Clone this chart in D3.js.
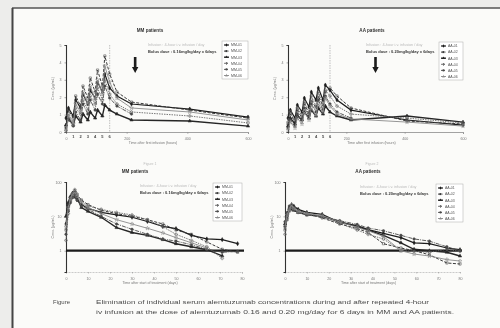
<!DOCTYPE html>
<html>
<head>
<meta charset="utf-8">
<script src="https://cdn.jsdelivr.net/npm/d3@7"></script>
<style>
  body { margin: 0; background: #ededeb; }
  svg { display: block; font-family: "Liberation Sans", Arial, sans-serif; }
</style>
</head>
<body>
<svg id="chart" width="500" height="328"></svg>
<script>
// ---- data ----
// top panels: hours after first infusion
const topHours = [0, 8, 24, 32, 48, 56, 72, 80, 96, 104, 120, 128, 144, 168, 216, 408, 600];
const doseDays = [1, 2, 3, 4, 5, 6];
const topTicks = [0, 200, 400, 600];

const mmPatients = ["MM-01", "MM-02", "MM-03", "MM-04", "MM-05", "MM-06"];
const aaPatients = ["AA-01", "AA-02", "AA-03", "AA-04", "AA-05", "AA-06"];

// MM, during/after infusion (linear scale)
const mmTop1 = [0.80, 1.38, 0.92, 1.84, 1.38, 2.18, 1.61, 2.41, 1.95, 2.87, 2.30, 3.33, 2.53, 2.07, 1.61, 1.32, 0.86];
const mmTop2 = [0.34, 1.26, 0.80, 2.07, 1.49, 2.64, 1.95, 3.10, 2.30, 3.56, 2.64, 4.37, 3.33, 2.30, 1.72, 1.26, 0.80];
const mmTop3 = [0.40, 0.80, 0.40, 0.92, 0.57, 1.03, 0.69, 1.15, 0.80, 1.26, 0.92, 1.55, 1.26, 1.03, 0.69, 0.63, 0.34];
const mmTop4 = [0.11, 1.03, 0.57, 1.38, 1.03, 1.84, 1.26, 2.07, 1.61, 2.53, 1.84, 2.99, 2.18, 1.61, 1.15, 0.92, 0.52];
const mmTop5 = [0.23, 0.69, 0.34, 1.15, 0.69, 1.61, 1.03, 1.84, 1.26, 2.18, 1.61, 2.64, 1.95, 1.49, 1.03, null, null];
const mmTop6 = [0.06, 0.92, 0.46, 1.61, 1.15, 2.30, 1.61, 2.64, 1.84, 2.99, 2.18, 3.79, 2.87, 1.95, 1.38, 1.15, 0.69];

// AA, during/after infusion
const aaTop1 = [0.80, 1.26, 0.80, 1.55, 1.15, 1.95, 1.44, 2.30, 1.84, 2.53, 1.84, 2.70, 2.41, 1.84, 1.26, 0.69, 0.40];
const aaTop2 = [0.46, 1.03, 0.57, 1.26, 0.80, 1.61, 1.03, 1.84, 1.38, 2.07, 1.49, 2.30, 2.53, 2.07, 1.38, 0.63, 0.46];
const aaTop3 = [0.34, 0.80, 0.46, 0.92, 0.69, 1.15, 0.80, 1.26, 0.92, 1.38, 1.03, 1.49, 1.15, 0.92, 0.69, 0.92, 0.57];
const aaTop4 = [0.57, 1.15, 0.69, 1.38, 0.92, 1.72, 1.15, 2.07, 1.49, 2.30, 1.61, 2.41, 2.07, 1.49, 1.03, 0.80, 0.52];
const aaTop5 = [0.23, 0.69, 0.34, 1.03, 0.69, 1.38, 0.92, 1.61, 1.15, 1.84, 1.26, 2.07, 1.61, 1.15, 0.80, null, null];
const aaTop6 = [0.11, 0.57, 0.23, 0.80, 0.46, 1.15, 0.69, 1.38, 0.92, 1.61, 1.15, 1.95, 1.49, 1.03, 0.75, 0.57, 0.34];

// bottom panels: days after start (log scale)
const mmDays = [0, 1, 2, 3, 4, 5, 7, 10, 16, 23, 30, 37, 44, 50, 57, 64, 71, 78];
const mmLog1 = [6, 20, 35, 45, 38, 30, 22, 17, 13, 11, 9.4, 7.1, 5.1, 4.4, 2.8, 2.2, 2.1, 1.6];
const mmLog2 = [4, 15, 30, 40, 50, 42, 30, 22, 15, 12, 10, 8, 6, 4, 3, 1.8, 1.1, 0.9];
const mmLog3 = [10, 25, 38, 48, 55, 35, 18, 14, 9.4, 4.7, 3.4, 2.8, 2.1, 1.6, 1.3, 1.07, 0.71, null];
const mmLog4 = [2, 12, 28, 42, 60, 45, 28, 20, 16, 13, 11, 8, 5, 3, 2, 1.3, 0.6, null];
const mmLog5 = [3, 14, 25, 35, 40, 30, 20, 16, 10, 6, 4.2, 3, 2.2, 1.9, 1.5, 1.1, 0.9, 0.95];
const mmLog6 = [5, 18, 33, 44, 52, 38, 25, 18, 12, 8, 6, 4.5, 3.3, 2.4, 1.7, 1.2, null, null];

const aaDays = [0, 1, 2, 3, 4, 6, 10, 17, 25, 33, 38, 45, 53, 59, 66, 74, 80];
const aaLog1 = [5, 10, 18, 22, 20, 16, 13, 11.4, 6.6, 5.4, 4.1, 3.2, 2.4, 1.7, 1.6, 1.2, 1.07];
const aaLog2 = [4, 8, 15, 20, 18, 15, 12, 9, 6, 4.4, 3.4, 1.6, 1.2, 1.0, 0.76, 0.44, 0.41];
const aaLog3 = [6, 12, 17, 16, 15, 13, 11, 10, 7, 5, 4, 2.8, 1.7, 1.1, 1.0, 0.9, 0.7];
const aaLog4 = [3, 9, 14, 19, 16, 13, 11, 9.5, 6.2, 4, 3, 2.2, 1.0, 0.95, 0.9, 1.1, 0.95];
const aaLog5 = [7, 13, 20, 18, 16, 14, 12, 10, 7.5, 5.8, 4.6, 3.8, 2.8, 2.2, 1.9, 1.3, 1.0];
const aaLog6 = [5, 11, 16, 21, 17, 14, 12, 10.5, 6.8, 4.8, 3.8, 2.6, 1.0, 0.8, 0.7, 0.55, 0.5];

const bottomTicks = [0, 10, 20, 30, 40, 50, 60, 70, 80];
const logTicks = [1, 10, 100];
const lloq = 1;

// ---- styles per patient ----
const styles = [
  { stroke: "#1e1e1e", dash: null, w: 1.2, sym: d3.symbolDiamond },
  { stroke: "#3a3a3a", dash: "3,1.5", w: 1.0, sym: d3.symbolSquare },
  { stroke: "#262626", dash: null, w: 1.4, sym: d3.symbolTriangle },
  { stroke: "#6a6a6a", dash: "1.5,1", w: 0.9, sym: d3.symbolCross },
  { stroke: "#4a4a4a", dash: "4,1,1,1", w: 0.9, sym: d3.symbolCircle },
  { stroke: "#8a8a8a", dash: null, w: 0.9, sym: d3.symbolStar }
];

const svg = d3.select("#chart");
// a light blur to get close to the scanned look
svg.append("defs").append("filter").attr("id", "scan")
  .append("feGaussianBlur").attr("stdDeviation", 0.35);
const root = svg.append("g").attr("filter", "url(#scan)");

// frame of the scanned page
root.append("rect").attr("x", 12).attr("y", 8).attr("width", 500).attr("height", 330)
  .attr("fill", "#fbfbf9");
root.append("line").attr("x1", 12).attr("x2", 500).attr("y1", 8).attr("y2", 8)
  .attr("stroke", "#555").attr("stroke-width", 1.5);
root.append("line").attr("x1", 12.5).attr("x2", 12.5).attr("y1", 8).attr("y2", 328)
  .attr("stroke", "#444").attr("stroke-width", 2);

function drawPanel(p) {
  const g = root.append("g");
  const x = d3.scaleLinear().domain(p.xDomain).range(p.xRange);
  const y = p.log
    ? d3.scaleLog().domain([0.24, 100]).range(p.yRange)
    : d3.scaleLinear().domain([0, 5]).range(p.yRange);

  // title
  g.append("text").attr("x", p.titleX).attr("y", p.titleY)
    .attr("text-anchor", "middle").attr("font-size", 4.6).attr("font-weight", "bold")
    .attr("fill", "#333").text(p.title);

  // x axis
  const xa = g.append("g").attr("transform", `translate(0,${p.yRange[0]})`)
    .call(d3.axisBottom(x).tickValues(p.xTicks).tickSize(p.log ? 1.5 : 2).tickFormat(d3.format("d")));
  xa.select(".domain").attr("stroke", p.log ? "#aaa" : "#666").attr("stroke-width", 0.6)
    .attr("stroke-dasharray", p.log ? "2,1" : null);
  xa.selectAll(".tick line").attr("stroke", "#888").attr("stroke-width", 0.5);
  xa.selectAll(".tick text").attr("font-size", 3.6).attr("fill", "#777").attr("dy", "0.9em")
    .attr("font-family", "Liberation Sans, Arial");

  // y axis
  const ya = g.append("g").attr("transform", `translate(${p.xRange[0]},0)`)
    .call(p.log
      ? d3.axisLeft(y).tickValues(logTicks).tickSize(1.5).tickFormat(d3.format("d"))
      : d3.axisLeft(y).ticks(5).tickSize(1.5));
  ya.select(".domain").attr("stroke", "#333").attr("stroke-width", 1.1);
  ya.selectAll(".tick line").attr("stroke", "#555").attr("stroke-width", 0.5);
  ya.selectAll(".tick text").attr("font-size", 3.6).attr("fill", "#777")
    .attr("font-family", "Liberation Sans, Arial");

  // axis titles
  g.append("text").attr("x", (p.xRange[0] + p.xRange[1]) / 2 - 4).attr("y", p.yRange[0] + (p.log ? 12 : 11.5))
    .attr("text-anchor", "middle").attr("font-size", 3.6).attr("fill", "#777").text(p.xLabel);
  g.append("text")
    .attr("transform", `translate(${p.xRange[0] - 12},${(p.yRange[0] + p.yRange[1]) / 2}) rotate(-90)`)
    .attr("text-anchor", "middle").attr("font-size", 3.6).attr("fill", "#777").text("Conc. (µg/mL)");

  if (p.log) {
    // limit of quantification
    g.append("line").attr("x1", p.xRange[0]).attr("x2", p.xRange[1] + 2)
      .attr("y1", y(lloq)).attr("y2", y(lloq)).attr("stroke", "#1a1a1a").attr("stroke-width", 2.3);
  } else {
    // end of treatment line + dose markers
    g.append("line").attr("x1", x(144)).attr("x2", x(144))
      .attr("y1", p.yRange[1]).attr("y2", p.yRange[0])
      .attr("stroke", "#999").attr("stroke-width", 0.6).attr("stroke-dasharray", "1.5,1");
    g.selectAll(".dose").data(doseDays).join("text")
      .attr("x", d => x(d * 24)).attr("y", p.yRange[0] + 5.5)
      .attr("text-anchor", "middle").attr("font-size", 4).attr("font-weight", "bold")
      .attr("fill", "#444").text(d => d);
    // down arrow
    const ax = x(p.arrowHour), ay = p.arrowY;
    g.append("path")
      .attr("d", `M${ax - 1.3},${ay} L${ax + 1.3},${ay} L${ax + 1.3},${ay + 10} L${ax + 3.2},${ay + 10} L${ax},${ay + 16} L${ax - 3.2},${ay + 10} L${ax - 1.3},${ay + 10} Z`)
      .attr("fill", "#1a1a1a");
  }

  // series
  const line = d3.line().defined(d => d[1] != null)
    .x(d => x(d[0])).y(d => y(d[1]));
  p.series.forEach((vals, i) => {
    const st = styles[i];
    const pts = p.xs.map((t, j) => [t, vals[j]]);
    g.append("path").attr("d", line(pts)).attr("fill", "none")
      .attr("stroke", st.stroke).attr("stroke-width", st.w)
      .attr("stroke-dasharray", st.dash);
    g.selectAll(null).data(pts.filter(d => d[1] != null)).join("path")
      .attr("transform", d => `translate(${x(d[0])},${y(d[1])})`)
      .attr("d", d3.symbol().type(st.sym).size(5))
      .attr("fill", i % 2 ? "none" : st.stroke).attr("stroke", st.stroke).attr("stroke-width", 0.5);
  });

  // annotation
  g.append("text").attr("x", p.noteX).attr("y", p.noteY)
    .attr("font-size", 3.8).attr("fill", "#bbb").text(p.note1);
  g.append("text").attr("x", p.noteX).attr("y", p.noteY + 7)
    .attr("font-size", 4).attr("fill", "#333").attr("font-weight", "bold").text(p.note2);

  // legend
  const lg = g.append("g").attr("transform", `translate(${p.legX},${p.legY})`);
  lg.append("rect").attr("width", p.legW).attr("height", 38)
    .attr("fill", "#fff").attr("stroke", "#aaa").attr("stroke-width", 0.5);
  p.names.forEach((n, i) => {
    const st = styles[i];
    const row = lg.append("g").attr("transform", `translate(2,${4 + i * 6.1})`);
    row.append("line").attr("x1", 0).attr("x2", 5).attr("stroke", st.stroke)
      .attr("stroke-width", st.w).attr("stroke-dasharray", st.dash);
    row.append("path").attr("transform", "translate(2.5,0)")
      .attr("d", d3.symbol().type(st.sym).size(4)).attr("fill", st.stroke);
    row.append("text").attr("x", 7).attr("y", 1.3).attr("font-size", 3.5)
      .attr("fill", "#555").text(n);
  });

  if (p.sub) {
    g.append("text").attr("x", p.titleX).attr("y", p.yRange[0] + 33)
      .attr("text-anchor", "middle").attr("font-size", 3.5).attr("fill", "#bbb").text(p.sub);
  }
}

drawPanel({
  title: "MM patients", titleX: 150, titleY: 32,
  xDomain: [0, 600], xRange: [66, 248], yRange: [132, 45], xTicks: topTicks,
  xs: topHours, series: [mmTop1, mmTop2, mmTop3, mmTop4, mmTop5, mmTop6], names: mmPatients,
  xLabel: "Time after first infusion (hours)", arrowHour: 228, arrowY: 57,
  noteX: 148, noteY: 46, note1: "Infusion : 4-hour i.v. infusion / day",
  note2: "Bolus dose : 0.16mg/kg/day x 6days",
  legX: 222, legY: 41, legW: 26, sub: "Figure 1"
});

drawPanel({
  title: "AA patients", titleX: 372, titleY: 32,
  xDomain: [0, 600], xRange: [288, 463], yRange: [132, 45], xTicks: topTicks,
  xs: topHours, series: [aaTop1, aaTop2, aaTop3, aaTop4, aaTop5, aaTop6], names: aaPatients,
  xLabel: "Time after first infusion (hours)", arrowHour: 300, arrowY: 57,
  noteX: 366, noteY: 46, note1: "Infusion : 4-hour i.v. infusion / day",
  note2: "Bolus dose : 0.20mg/kg/day x 6days",
  legX: 439, legY: 42, legW: 24, sub: "Figure 2"
});

drawPanel({
  title: "MM patients", titleX: 135, titleY: 173, log: true,
  xDomain: [0, 80], xRange: [66, 242], yRange: [272, 182], xTicks: bottomTicks,
  xs: mmDays, series: [mmLog1, mmLog2, mmLog3, mmLog4, mmLog5, mmLog6], names: mmPatients,
  xLabel: "Time after start of treatment (days)",
  noteX: 140, noteY: 187, note1: "Infusion : 4-hour i.v. infusion / day",
  note2: "Bolus dose : 0.16mg/kg/day x 6days",
  legX: 213, legY: 183, legW: 29
});

drawPanel({
  title: "AA patients", titleX: 368, titleY: 173, log: true,
  xDomain: [0, 80], xRange: [285, 460], yRange: [272, 182], xTicks: bottomTicks,
  xs: aaDays, series: [aaLog1, aaLog2, aaLog3, aaLog4, aaLog5, aaLog6], names: aaPatients,
  xLabel: "Time after start of treatment (days)",
  noteX: 360, noteY: 188, note1: "Infusion : 4-hour i.v. infusion / day",
  note2: "Bolus dose : 0.20mg/kg/day x 6days",
  legX: 436, legY: 184, legW: 27
});

// caption
const cap = root.append("g").attr("font-size", 6).attr("fill", "#4a4a4a");
cap.append("text").attr("x", 53).attr("y", 304).text("Figure");
cap.append("text").attr("x", 96).attr("y", 304).attr("textLength", 333).attr("lengthAdjust", "spacingAndGlyphs")
  .text("Elimination of individual serum alemtuzumab concentrations during and after repeated 4-hour");
cap.append("text").attr("x", 96).attr("y", 314).attr("textLength", 358).attr("lengthAdjust", "spacingAndGlyphs")
  .text("iv infusion at the dose of alemtuzumab 0.16 and 0.20 mg/day for 6 days in MM and AA patients.");
</script>
</body>
</html>
